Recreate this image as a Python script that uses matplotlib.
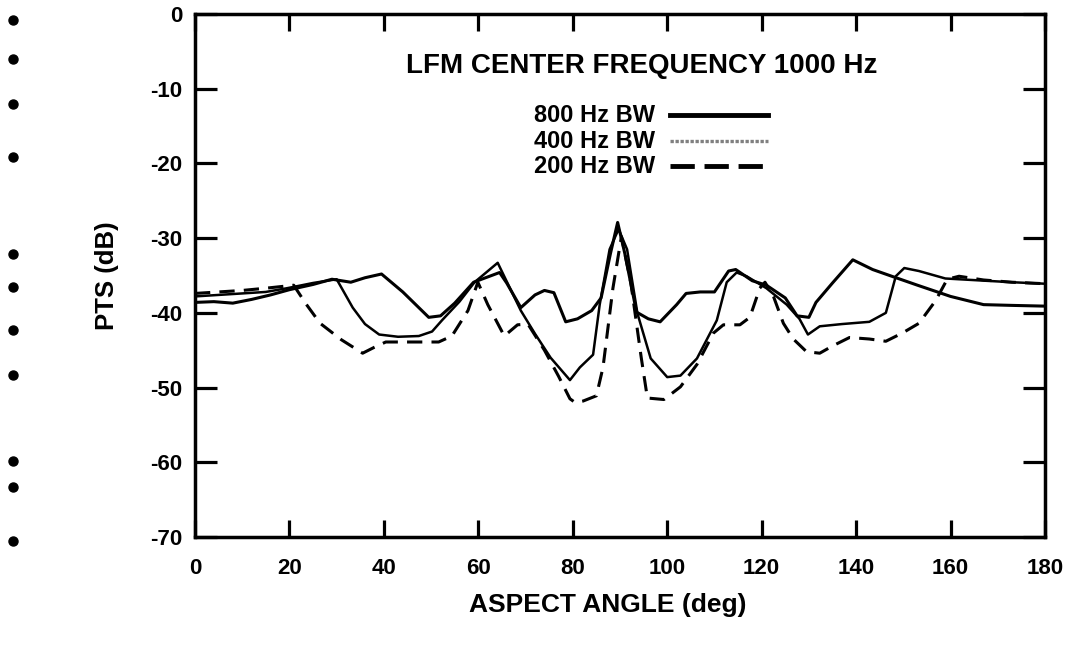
import matplotlib
matplotlib.use("Agg")
import matplotlib.pyplot as plt
import matplotlib.transforms as mtransforms

plt.rcParams['font.family'] = ['Liberation Sans', 'DejaVu Sans']
plt.rcParams['font.weight'] = 'bold'

# ---------------- data ----------------
x_800 = [0, 4, 8, 12, 16, 20, 25, 29, 33, 36, 39.5, 44, 49.5, 52, 55, 59, 64.5, 66, 69, 72,
         74, 76, 78.5, 81, 84, 86, 88, 89.5, 91, 93.5, 96, 98.5, 102, 104, 107, 110, 113,
         114.5, 118, 121, 125, 127.5, 130, 131.5, 135, 139.3, 143.5, 148, 153, 160, 167, 173, 180]
y_800 = [-38.6, -38.5, -38.7, -38.2, -37.6, -36.9, -36.2, -35.5, -35.9, -35.3, -34.8, -37.2,
         -40.6, -40.4, -38.7, -35.9, -34.6, -36.0, -39.3, -37.6, -37.0, -37.3, -41.2, -40.8,
         -39.7, -38.0, -32.0, -27.9, -32.0, -39.9, -40.8, -41.2, -38.9, -37.4, -37.2, -37.2,
         -34.4, -34.2, -35.7, -36.3, -38.0, -40.4, -40.6, -38.6, -36.0, -32.9, -34.2, -35.2,
         -36.3, -37.8, -38.9, -39.0, -39.1]

x_400 = [0, 5, 10, 15, 19.5, 25, 30, 33.4, 36, 39, 43, 47.4, 50.2, 52.3, 56, 59.2, 64.1, 69,
         72, 75.3, 79.4, 81.5, 84.3, 85.7, 87.8, 89.7, 91.5, 93.7, 96.5, 100, 102.8, 106.3,
         110.5, 112.6, 114.7, 116.8, 121, 125.3, 128, 129.8, 132.3, 137, 142.8, 146.3, 148.4,
         150.2, 153.3, 158.9, 167.3, 173, 180]
y_400 = [-37.8, -37.6, -37.4, -37.2, -36.7, -36.0, -35.5, -39.3, -41.5, -42.9, -43.2, -43.1,
         -42.5, -41.0, -38.5, -35.9, -33.3, -39.7, -42.8, -46.0, -49.0, -47.3, -45.6, -38.9,
         -31.5, -28.8, -31.5, -40.1, -46.1, -48.6, -48.4, -46.1, -41.0, -35.9, -34.6, -35.1,
         -36.7, -38.9, -40.8, -42.9, -41.8, -41.5, -41.2, -40.0, -35.1, -34.0, -34.4, -35.4,
         -35.7, -35.9, -36.1]

x_200 = [0, 5, 10, 15, 20.9, 23.5, 26.5, 31, 35.5, 38, 40.4, 46, 51.6, 54.4, 57.8, 59.9, 62,
         65.5, 68.3, 70.5, 74, 77, 79.4, 80.5, 82.2, 85, 86.4, 88.5, 90.3, 92.3, 94.5, 95.8,
         99.3, 102.8, 106.3, 109.8, 111.9, 115.4, 117.5, 119.6, 120.7, 122.5, 124.6, 126.7,
         129.5, 132.3, 135.1, 138.6, 142.8, 146.3, 149.8, 153.3, 156.8, 159.3, 161.8, 167,
         173, 180]
y_200 = [-37.4, -37.2, -37.0, -36.7, -36.3, -38.8, -41.4, -43.6, -45.4, -44.6, -43.9, -43.9,
         -43.9, -43.1, -39.7, -35.9, -38.9, -43.1, -41.6, -41.5, -45.0, -48.5, -51.5, -52.0,
         -51.8, -51.1, -47.3, -36.7, -29.8, -36.0, -46.0, -51.4, -51.6, -49.9, -46.9, -42.7,
         -41.6, -41.6, -40.6, -36.7, -35.9, -37.8, -41.4, -43.5, -45.2, -45.4, -44.4, -43.3,
         -43.5, -43.8, -42.7, -41.4, -38.4, -35.5, -35.1, -35.6, -35.9, -36.1]

x_ticks = [0, 20, 40, 60, 80, 100, 120, 140, 160, 180]
y_ticks = [0, -10, -20, -30, -40, -50, -60, -70]
legend_title = "LFM CENTER FREQUENCY 1000 Hz"
legend_labels = ["800 Hz BW", "400 Hz BW", "200 Hz BW"]
margin_dot_levels = [-0.8, -6.0, -12.0, -19.1, -32.1, -36.6, -42.3, -48.3, -59.8, -63.3, -70.5]

# ---------------- figure ----------------
fig = plt.figure(figsize=(10.65, 6.52), dpi=100)
ax = fig.add_axes([195 / 1065, 1 - 537 / 652, 850 / 1065, 523 / 652])

ax.plot(x_800, y_800, color='black', lw=2.2, solid_joinstyle='round')
ax.plot(x_400, y_400, color='black', lw=1.8, solid_joinstyle='round')
ax.plot(x_200, y_200, color='black', lw=2.2, ls=(0, (5, 3)))

ax.set_xlim(0, 180)
ax.set_ylim(-70, 0)
ax.set_xticks(x_ticks)
ax.set_yticks(y_ticks)
ax.set_xticklabels([str(v) for v in x_ticks])
ax.set_yticklabels([str(v) for v in y_ticks])
ax.tick_params(direction='in', width=2.3, top=True, right=True, labelsize=16)
ax.tick_params(axis='x', length=12, pad=15)
ax.tick_params(axis='y', length=15.5, pad=9)
for s in ax.spines.values():
    s.set_linewidth(2.5)

ax.set_xlabel("ASPECT ANGLE (deg)", fontsize=19, fontweight='bold')
ax.set_ylabel("PTS (dB)", fontsize=18.5, fontweight='bold')
ax.xaxis.label.set_va('center')
ax.yaxis.label.set_va('center')
ax.xaxis.set_label_coords(0.486, -0.130)
ax.yaxis.set_label_coords(-0.1035, 0.5)

# legend block
ax.text(0.525, 0.901, legend_title, transform=ax.transAxes, ha='center', va='center',
        fontsize=20, fontweight='bold')
ys = [0.806, 0.757, 0.709]
styles = [dict(color='black', lw=3.5, ls='-'),
          dict(color='#808080', lw=2.4, ls=(0, (1, 0.5))),
          dict(color='black', lw=3.5, ls=(0, (5, 2)))]
for lab, yy, st in zip(legend_labels, ys, styles):
    ax.text(0.541, yy, lab, transform=ax.transAxes, ha='right', va='center',
            fontsize=17, fontweight='bold')
    ax.plot([0.559, 0.674], [yy, yy], transform=ax.transAxes, **st)

# margin dots
trans = mtransforms.blended_transform_factory(fig.transFigure, ax.transData)
ax.plot([13 / 1065] * len(margin_dot_levels), margin_dot_levels, 'o', color='black',
        ms=6.5, transform=trans, clip_on=False)

fig.savefig("out.png", dpi=100)
